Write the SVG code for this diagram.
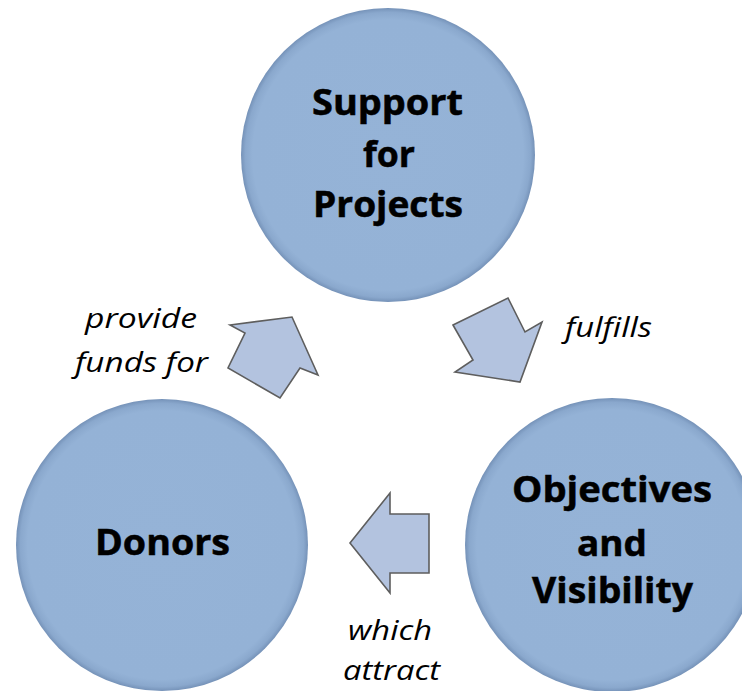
<svg xmlns="http://www.w3.org/2000/svg" width="742" height="691" viewBox="0 0 742 691">
<defs>
<radialGradient id="cg" cx="0.5" cy="0.5" r="0.5">
<stop offset="0" stop-color="#95b3d7"/>
<stop offset="0.92" stop-color="#94b2d6"/>
<stop offset="0.97" stop-color="#8aa8cd"/>
<stop offset="1" stop-color="#7592b8"/>
</radialGradient>
<style>
.node{fill:url(#cg);}
.nt{font-family:"Open Sans","DejaVu Sans",sans-serif;font-weight:bold;font-size:35px;fill:#000;stroke:#000;stroke-width:0.5;}
.lbl{font-family:"Open Sans","DejaVu Sans",sans-serif;font-style:italic;font-size:28px;fill:#000;}
.arr{fill:#b3c3df;stroke:#5e5e5e;stroke-width:1.6;stroke-linejoin:miter;}
</style>
</defs>
<rect width="742" height="691" fill="#ffffff"/>
<g id="support">
<circle class="node" cx="388" cy="155" r="147"/>
<text class="nt" x="312" y="115" textLength="151" lengthAdjust="spacingAndGlyphs">Support</text>
<text class="nt" x="363" y="167" textLength="52" lengthAdjust="spacingAndGlyphs">for</text>
<text class="nt" x="313" y="217" textLength="150" lengthAdjust="spacingAndGlyphs">Projects</text>
</g>
<g id="donors">
<circle class="node" cx="162" cy="545" r="146"/>
<text class="nt" x="95" y="555" textLength="135" lengthAdjust="spacingAndGlyphs">Donors</text>
</g>
<g id="objectives">
<circle class="node" cx="612" cy="545" r="147"/>
<text class="nt" x="512" y="502" textLength="200" lengthAdjust="spacingAndGlyphs">Objectives</text>
<text class="nt" x="577" y="556" textLength="70" lengthAdjust="spacingAndGlyphs">and</text>
<text class="nt" x="532" y="603" textLength="161" lengthAdjust="spacingAndGlyphs">Visibility</text>
</g>
<g id="connectors">
<polygon class="arr" points="230,325 292,317 318,375 300,368 280,398 228,368 245,333"/>
<polygon class="arr" points="453,325 508,298 525,332 542,322 520,382 455,372 473,360"/>
<polygon class="arr" points="350,543 390,493 390,514 429,514 429,573 390,573 390,593"/>
<text class="lbl" x="85" y="328" textLength="112" lengthAdjust="spacingAndGlyphs">provide</text>
<text class="lbl" x="75" y="372" textLength="133" lengthAdjust="spacingAndGlyphs">funds for</text>
<text class="lbl" x="565" y="337" textLength="87" lengthAdjust="spacingAndGlyphs">fulfills</text>
<text class="lbl" x="348" y="640" textLength="84" lengthAdjust="spacingAndGlyphs">which</text>
<text class="lbl" x="343" y="680" textLength="97" lengthAdjust="spacingAndGlyphs">attract</text>
</g>
</svg>
